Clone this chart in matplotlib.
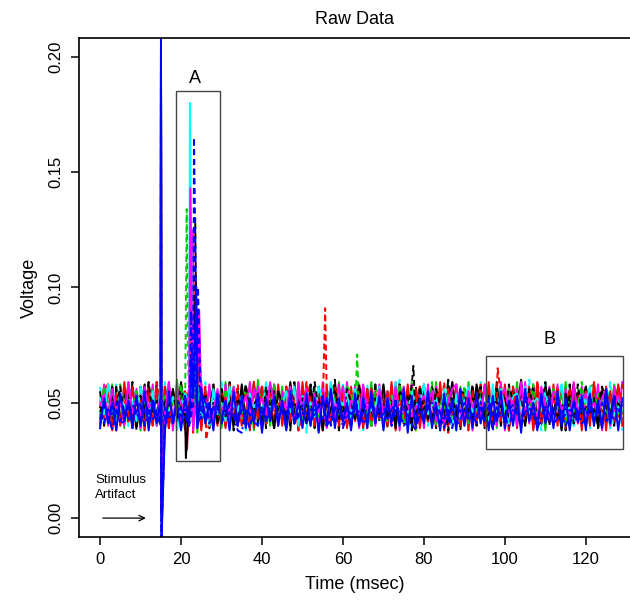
import numpy as np
import matplotlib.pyplot as plt

plt.rcParams['font.family'] = ['Liberation Sans', 'DejaVu Sans']

# raw traces sampled every 1 ms from 0 ms, values in thousandths of a volt
trace_1 = """48524457415046553953 47584351455640495442 59465038554452475741
53454956405843514654 42574839555044594552 47415649533851465843
50554054475742495245 58445139564853415046 55435749405247594451
46544158504553395648 52425547604450574153 49564551385447584350
57465240554844534951"""
trace_2 = """51435846544049573945 56485241594753445043 48554637524957425446
41535047584455403951 57445246504156485338 45595043544752415749
53404856445139574652 47554258495046534058 44514755425937504852
56455043584952404754 50385746534455415948 43524957465140545047
55484153465742504458"""
trace_3 = """45574950425839534755 43484556415154475043 58465240574953454752
39564451484357504653 54414958465238555047 42534756445040595145
49575543465248395654 47425350584145574451 53465940504754435248
57415046554939524456 44565148425346584050 51435747554052464959
46504254485739534547"""
trace_4 = """43494538474142484446 50404743454839464149 44474252404645434850
41464944383747454240 48434651444739504245 46414844495040434752
39454248464143504744 45494047434844413846 42485044463945474043
47434541504249384844 44404746425148453943 49454143474044504641
43474548405245434649"""
trace_5 = """52455848405647535042 57494455415948465339 47545145584352405645
50425749465338544851 45594752414955465740 53485044575142594751
49554356465241504857 44524759405346554950 58454952435647395443
51574648525041584456 47415354495745505248 55464251584448404753
50574446525539454851"""
trace_6 = """49534456475140584652 44574850425545594153 50465438574952434755
46514457404853455649 52455950435147574154 48564253465039554751
57435149455847524056 45524657415349444850 53495542474051565846
41554852445747504353 56465140594552484457 49435553475042584651
54475045525640485349"""
trace_7 = """46504253485744554150 53475945514052485643 48534157464954435047
56445040524758454953 41574855465142565044 52494459475340535548
45565042584651474153 50434955445246584057 47534156495038524655
54465248574345515049 42585047534056484452 57495244504653415845
48534650575144525047"""
trace_8 = """45414844504247434946 41474352454048444251 47444049464352414845
43504546414744394849 46424851434745504144 49454147444352404846
42484549414644504347 48434751454042494544 44504148464347394946
50454244484152454347 43474945404648444250 47414850434547464149
45494346504244484746"""
trace_9 = """40574258395643594155 38574456405943583960 42554058375641574354
39594257405544583860 41564058435739554259 40584356385742554159
43573958415640594456 39554258405743593857 42564059385541584357
40594356425840553958 43574159395642584055 38564457415940584256
40575839425644585041"""
trace_10 = """57415539584256405944 55385842574059435637 58445740553959415642
60395543574158385640 54425938574156445840 56375943554058425739
59415644573858405542 57395842604156385443 58405539574259435641
55385741594457405840 56435839554160425738 59415644583957405542
57395840564359415538"""
trace_11 = """42584057385541594356 39574258405644593858 41554357395942584056
44583955415740594257 38564358405542574159 43574056385941554458
40594257395543564158 42554059385742584456 39584157435540594256
41573856445842554059 38574356405941584255 44574058395642594157
40564358385541574459"""
trace_12 = """39524150385442513953 40553851415237554250 38534052395641503854
42513855405339524154 37524253405138554150 39544052375341563951
42503854405239554153 38524251405637534052 41553950385442513856
40523954415038534255 39514053375642503854 41523955405238514253
38544051395641533852"""
trace_13 = """55405839574156425938 57435540594258395641 54385742604055395843
56405938554257405941 58395641544357385940 55425839574056416038
57405543583956405842 54395740594155385743 58415639554260405738
56435840573955425940 55385742584056395441 59405643573858415540
57425839564155405843"""
trace_14 = """41565838534059425743 54385940564257395541 58405343593856415740
55395842544057385943 56415439584057425538 59435640553857415840
54395742583956405543 57405938554258415639 53425740593856435840
56385541574059395442 58405639554357385941 55425840573956415438
57405943563855425840"""
traces = [trace_1, trace_2, trace_3, trace_4, trace_5, trace_6, trace_7,
          trace_8, trace_9, trace_10, trace_11, trace_12, trace_13, trace_14]

# evoked responses and stray spikes (time ms, voltage) per trace
spikes = [
    [(21.2, 0.026), (22.5, 0.075), (23.5, 0.095)],
    [(22.6, 0.099), (23.3, 0.070), (26.2, 0.034), (55.6, 0.091), (98.2, 0.065)],
    [(21.4, 0.134), (21.7, 0.072), (63.5, 0.071)],
    [(22.5, 0.090), (23.4, 0.072)],
    [(22.2, 0.180), (22.5, 0.120), (23.4, 0.080)],
    [(22.3, 0.143), (24.5, 0.090)],
    [(23.5, 0.130), (24.3, 0.090), (77.4, 0.066)],
    [(23.2, 0.165), (23.6, 0.110), (24.2, 0.100)],
    [(22.8, 0.110), (23.5, 0.075)],
    [(22.4, 0.120), (24.0, 0.080)],
    [(23.0, 0.125), (23.8, 0.085)],
    [(23.8, 0.100), (22.6, 0.070)],
    [(22.9, 0.120), (24.4, 0.075)],
    [(23.6, 0.105), (21.5, 0.030)],
]

# stimulus artifact at 15 ms
artifact_t = [15.05, 15.15]
artifact_high = [0.215] * 14
artifact_low = [0.004, 0.010, 0.008, -0.010, 0.012, 0.006, 0.002, -0.010,
                0.010, 0.014, 0.005, -0.012, 0.008, 0.011]

colors = ["black", "red", "#00CD00", "blue", "cyan", "magenta", "black", "blue",
          "#00CD00", "cyan", "magenta", "blue", "black", "red"]
styles = ["-", (0, (3, 2)), (0, (3, 2)), (0, (4, 1.5, 1, 1.5)), "-",
          "-", (0, (3, 2)), (0, (3, 2)), "-", (0, (3, 2)), "-", "-", (0, (6, 2)), "-"]
draw_order = [8, 9, 12, 13, 10, 0, 1, 2, 4, 6, 5, 3, 7, 11]


def decode(s):
    s = "".join(s.split())
    return np.array([int(s[i:i + 2]) for i in range(0, len(s) - 1, 2)]) / 1000.0


fig = plt.figure(figsize=(6.3, 6.0), dpi=100)
ax = fig.add_axes([0.1254, 0.105, 0.8746, 0.8317])

for i in draw_order:
    v = decode(traces[i])
    t = np.arange(len(v), dtype=float)
    extra_t = [p[0] for p in spikes[i]] + artifact_t
    extra_v = [p[1] for p in spikes[i]] + [artifact_high[i], artifact_low[i]]
    t = np.concatenate([t, extra_t])
    v = np.concatenate([v, extra_v])
    order = np.argsort(t)
    ax.plot(t[order], v[order], color=colors[i], linestyle=styles[i], linewidth=1.4)

# boxes A and B
ax.add_patch(plt.Rectangle((18.8, 0.0247), 10.8, 0.1603, fill=False, edgecolor="#444444", linewidth=1.0, zorder=5))
ax.add_patch(plt.Rectangle((95.3, 0.0299), 33.8, 0.0403, fill=False, edgecolor="#444444", linewidth=1.0, zorder=5))
ax.text(23.5, 0.1908, "A", ha="center", va="center", fontsize=13)
ax.text(110.9, 0.0776, "B", ha="center", va="center", fontsize=13)

ax.text(-1.2, 0.0165, "Stimulus", ha="left", va="center", fontsize=9.5)
ax.text(-1.2, 0.0100, "Artifact", ha="left", va="center", fontsize=9.5)
ax.annotate("", xy=(12.0, 0.0), xytext=(0.0, 0.0),
            arrowprops=dict(arrowstyle="->", color="black", lw=0.9))

ax.set_xlim(-5.2, 130.9)
ax.set_ylim(-0.0082, 0.2082)
ax.set_xticks([0, 20, 40, 60, 80, 100, 120])
ax.set_yticks([0.0, 0.05, 0.10, 0.15, 0.20])
ax.set_yticklabels(["0.00", "0.05", "0.10", "0.15", "0.20"], rotation=90, va="center")
ax.tick_params(direction="out", length=6, width=1.1, labelsize=12, pad=5)
for s in ax.spines.values():
    s.set_linewidth(1.2)
ax.spines["right"].set_visible(False)

ax.set_xlabel("Time (msec)", fontsize=13, labelpad=6)
ax.set_ylabel("Voltage", fontsize=13, labelpad=8)
ax.set_title("Raw Data", fontsize=13, pad=10)

fig.savefig("out.png", dpi=100)
